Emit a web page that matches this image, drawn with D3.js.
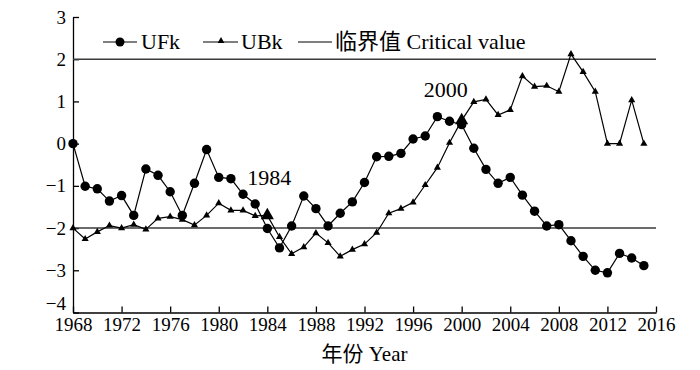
<!DOCTYPE html>
<html>
<head>
<meta charset="utf-8">
<script src="https://cdn.jsdelivr.net/npm/d3@7"></script>
<style>
  body { margin: 0; background: #fff; }
  svg text { font-family: "Liberation Serif", "Noto Sans CJK SC", serif; fill: #000; }
  .axis path, .axis line { stroke: #000; stroke-width: 1.3; }
</style>
</head>
<body>
<div id="chart"></div>
<script>
// Mann-Kendall test values
const years = [1968, 1969, 1970, 1971, 1972, 1973, 1974, 1975, 1976, 1977, 1978, 1979,
  1980, 1981, 1982, 1983, 1984, 1985, 1986, 1987, 1988, 1989, 1990, 1991,
  1992, 1993, 1994, 1995, 1996, 1997, 1998, 1999, 2000, 2001, 2002, 2003,
  2004, 2005, 2006, 2007, 2008, 2009, 2010, 2011, 2012, 2013, 2014, 2015];

const ufkValues = [0.00, -1.01, -1.07, -1.36, -1.23, -1.70, -0.60, -0.75, -1.14, -1.70, -0.94, -0.14,
  -0.80, -0.83, -1.20, -1.43, -2.01, -2.47, -1.95, -1.24, -1.54, -1.95, -1.65, -1.38,
  -0.92, -0.31, -0.30, -0.23, 0.11, 0.18, 0.64, 0.53, 0.45, -0.11, -0.61, -0.94,
  -0.80, -1.22, -1.60, -1.95, -1.92, -2.30, -2.67, -3.00, -3.06, -2.60, -2.71, -2.89];

const ubkValues = [-2.00, -2.26, -2.09, -1.94, -2.00, -1.92, -2.03, -1.77, -1.73, -1.80, -1.93, -1.70,
  -1.41, -1.58, -1.58, -1.71, -1.70, -2.21, -2.61, -2.45, -2.12, -2.35, -2.67, -2.51,
  -2.38, -2.11, -1.65, -1.54, -1.39, -0.98, -0.57, 0.02, 0.55, 0.99, 1.05, 0.68,
  0.80, 1.60, 1.35, 1.37, 1.23, 2.12, 1.70, 1.23, 0.00, 0.00, 1.03, 0.00];

const criticalValues = [2, -2];
const markedYears = [1984, 2000]; // change points, drawn with a bigger triangle

const xTicks = [1968, 1972, 1976, 1980, 1984, 1988, 1992, 1996, 2000, 2004, 2008, 2012, 2016];
const yTicks = [-4, -3, -2, -1, 0, 1, 2, 3];
const legendLabels = ['UFk', 'UBk', '临界值 Critical value'];
const xAxisTitle = '年份 Year';

const margin = { top: 17, right: 44, bottom: 57.5, left: 73 };
const width = 700, height = 370;
const tickFont = '"Liberation Serif", "Noto Sans CJK SC", serif';

const svg = d3.select('#chart').append('svg')
  .attr('width', width)
  .attr('height', height);

const x = d3.scaleLinear()
  .domain([1968, 2016])
  .range([margin.left, width - margin.right]);

const y = d3.scaleLinear()
  .domain([-4, 3])
  .range([height - margin.bottom, margin.top]);

// axes, ticks pointing inwards
svg.append('g')
  .attr('class', 'axis')
  .attr('transform', `translate(0,${y(-4)})`)
  .call(d3.axisBottom(x).tickValues(xTicks).tickFormat(d3.format('d'))
    .tickSizeInner(-6).tickSizeOuter(0).tickPadding(5))
  .attr('font-family', tickFont)
  .attr('font-size', 19);

svg.append('g')
  .attr('class', 'axis')
  .attr('transform', `translate(${x(1968)},0)`)
  .call(d3.axisLeft(y).tickValues(yTicks).tickFormat(d3.format('d'))
    .tickSizeInner(-6).tickSizeOuter(0).tickPadding(7))
  .attr('font-family', tickFont)
  .attr('font-size', 19)
  // the -4 label sits a little above the corner so it clears 1968
  .call(g => g.selectAll('text').filter(d => d === -4).attr('dy', '-0.15em'));

// critical value lines
svg.selectAll('.critical')
  .data(criticalValues)
  .join('line')
  .attr('class', 'critical')
  .attr('x1', x(1968))
  .attr('x2', x(2016))
  .attr('y1', d => y(d))
  .attr('y2', d => y(d))
  .attr('stroke', '#3a3a3a')
  .attr('stroke-width', 1.5);

const ufk = years.map((yr, i) => ({ year: yr, value: ufkValues[i] }));
const ubk = years.map((yr, i) => ({ year: yr, value: ubkValues[i] }));

const line = d3.line()
  .x(d => x(d.year))
  .y(d => y(d.value));

svg.append('path')
  .datum(ubk)
  .attr('fill', 'none')
  .attr('stroke', '#000')
  .attr('stroke-width', 1.2)
  .attr('d', line);

svg.append('path')
  .datum(ufk)
  .attr('fill', 'none')
  .attr('stroke', '#000')
  .attr('stroke-width', 1.2)
  .attr('d', line);

const triangle = d3.symbol().type(d3.symbolTriangle);

svg.selectAll('.ubk-point')
  .data(ubk)
  .join('path')
  .attr('class', 'ubk-point')
  .attr('transform', d => `translate(${x(d.year)},${y(d.value)})`)
  .attr('d', d => triangle.size(markedYears.includes(d.year) ? 75 : 22)());

svg.selectAll('.ufk-point')
  .data(ufk)
  .join('circle')
  .attr('class', 'ufk-point')
  .attr('r', 4.7)
  .attr('cx', d => x(d.year))
  .attr('cy', d => y(d.value));

// change-point labels
const labelOffsets = [{ dx: 2, dy: -30 }, { dx: -16, dy: -23 }];
svg.selectAll('.year-label')
  .data(markedYears)
  .join('text')
  .attr('class', 'year-label')
  .attr('text-anchor', 'middle')
  .attr('x', (d, i) => x(d) + labelOffsets[i].dx)
  .attr('y', (d, i) => y(ubkValues[years.indexOf(d)]) + labelOffsets[i].dy)
  .style('font-size', '22px')
  .text(d => d);

// legend
const legend = svg.append('g').attr('transform', 'translate(103,42)');
const legendX = [0, 100, 195];

legendLabels.forEach((label, i) => {
  const item = legend.append('g').attr('transform', `translate(${legendX[i]},0)`);
  item.append('line')
    .attr('x1', 0).attr('x2', i === 1 ? 35 : 34)
    .attr('stroke', '#000')
    .attr('stroke-width', 1.2);
  if (i === 0) {
    item.append('circle').attr('cx', 17).attr('r', 4.5);
  } else if (i === 1) {
    item.append('path').attr('transform', 'translate(18,-1)').attr('d', triangle.size(20)());
  }
  item.append('text')
    .attr('x', i === 2 ? 37 : 38)
    .attr('y', 7)
    .style('font-size', '22px')
    .text(label);
});

svg.append('text')
  .attr('text-anchor', 'middle')
  .attr('x', (x(1968) + x(2016)) / 2)
  .attr('y', 361)
  .style('font-size', '21px')
  .text(xAxisTitle);
</script>
</body>
</html>
